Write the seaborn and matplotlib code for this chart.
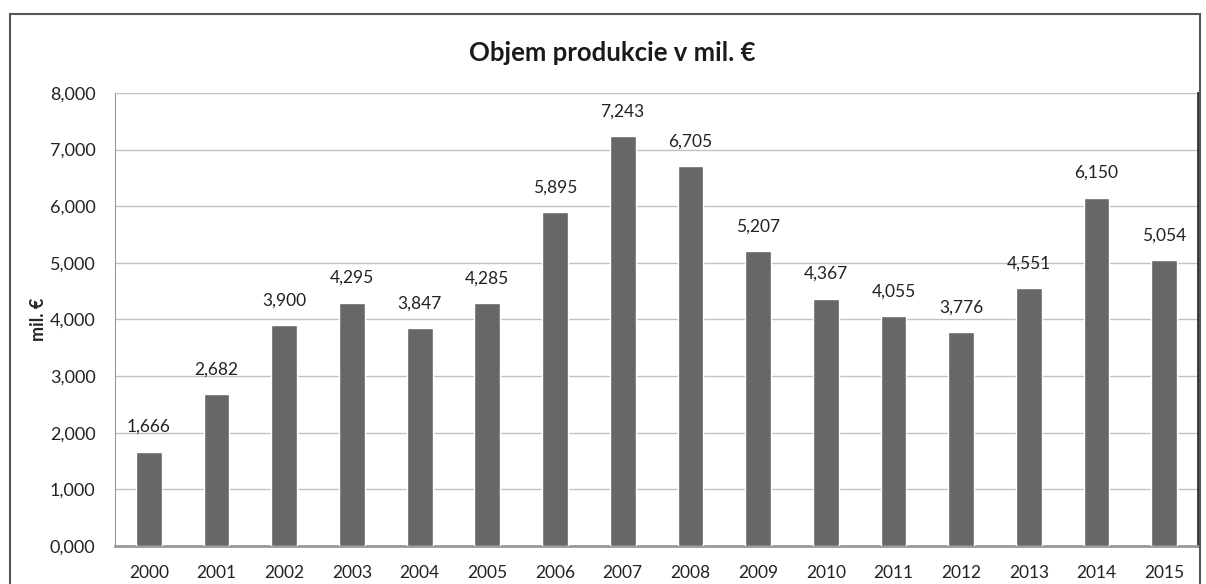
import matplotlib
matplotlib.use('Agg')
import matplotlib.pyplot as plt
import matplotlib.patches as patches
import seaborn as sns
import pandas as pd

# Dáta z grafu
roky = ['2000', '2001', '2002', '2003', '2004', '2005', '2006', '2007',
        '2008', '2009', '2010', '2011', '2012', '2013', '2014', '2015']
objem = [1.666, 2.682, 3.900, 4.295, 3.847, 4.285, 5.895, 7.243,
         6.705, 5.207, 4.367, 4.055, 3.776, 4.551, 6.150, 5.054]
y_ticky = [0, 1, 2, 3, 4, 5, 6, 7, 8]

nadpis = 'Objem produkcie v mil. €'
os_y = 'mil. €'


def format_ciarka(v):
    return f'{v:.3f}'.replace('.', ',')


sns.set_style('white')
plt.rcParams['font.family'] = ['Lato', 'DejaVu Sans']

df = pd.DataFrame({'rok': roky, 'objem': objem})

fig = plt.figure(figsize=(12.06, 5.84), dpi=100)
ax = fig.add_axes([0.0954, 0.0651, 0.898, 0.7757])

sns.barplot(data=df, x='rok', y='objem', color='#676767', width=0.38,
            saturation=1, ax=ax, zorder=3)

ax.set_ylim(0, 8)
ax.set_yticks(y_ticky)
ax.set_yticklabels([format_ciarka(v) for v in y_ticky], fontsize=13, color='#222222')
ax.tick_params(axis='x', labelsize=12.5, colors='#222222', length=0, pad=14)
ax.tick_params(axis='y', length=0, pad=14)
ax.set_xlabel('')
ax.set_ylabel(os_y, fontsize=13, fontweight='bold', labelpad=2)
ax.yaxis.grid(True, color='#c2c2c2', linewidth=1, zorder=0)

ax.spines['top'].set_visible(False)
ax.spines['left'].set_color('#9a9a9a')
ax.spines['bottom'].set_color('#999999')
ax.spines['bottom'].set_linewidth(2)
ax.spines['right'].set_color('#333333')
ax.spines['right'].set_linewidth(2)

# Hodnoty nad stĺpcami
for i, v in enumerate(objem):
    ax.annotate(format_ciarka(v), (i, v), xytext=(0, 12), textcoords='offset points',
                ha='center', va='bottom', fontsize=12.5, color='#222222')

fig.suptitle(nadpis, x=0.508, y=0.93, fontsize=18.5, fontweight='bold', color='#1a1a1a')

# Rámik grafu
ramik = patches.Rectangle((10 / 1206, -0.01), 1190 / 1206, 1 - 14 / 584 + 0.01,
                          transform=fig.transFigure, fill=False,
                          edgecolor='#555555', linewidth=1.5)
fig.patches.append(ramik)

fig.savefig('out.png', dpi=100)
